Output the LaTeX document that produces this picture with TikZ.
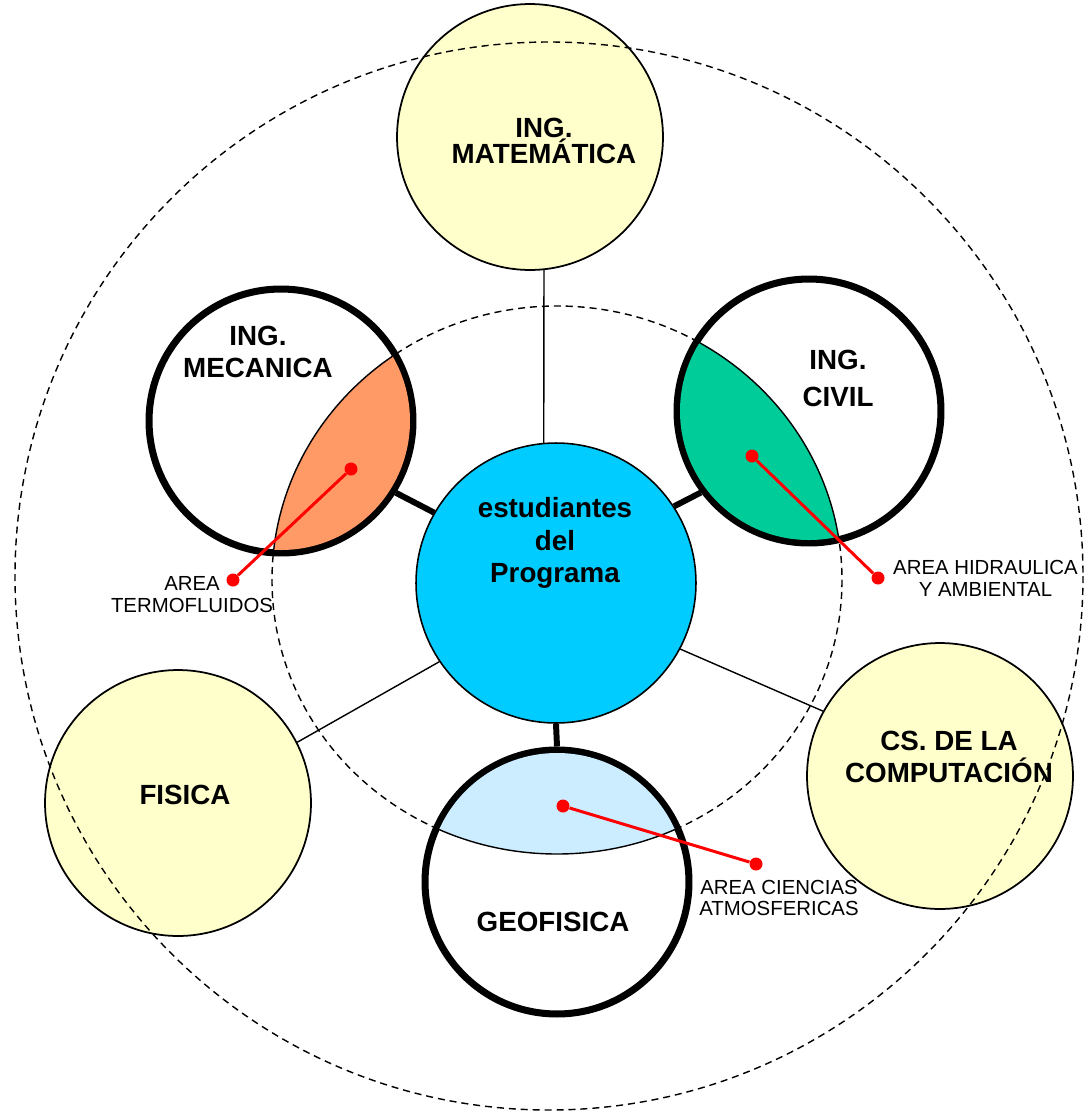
\documentclass[tikz,border=0pt]{standalone}
\usepackage{fontspec}
\setmainfont{Liberation Sans}
\usepackage{xcolor}
\usepackage{tikz}

\definecolor{paleyellow}{HTML}{FFFFCC}
\definecolor{hubcyan}{HTML}{00CCFF}
\definecolor{lensorange}{HTML}{FF9966}
\definecolor{lensgreen}{HTML}{00CC99}
\definecolor{lensblue}{HTML}{CCECFF}

\begin{document}
\begin{tikzpicture}[
    x=0.02cm, y=-0.02cm,
    plain/.style={circle, draw=black, line width=1pt, fill=paleyellow, minimum size=5.32cm, inner sep=0pt},
    ring/.style={circle, draw=black, line width=4pt, fill=white, minimum size=5.28cm, inner sep=0pt},
    hub/.style={circle, draw=black, line width=0.9pt, fill=hubcyan, minimum size=5.6cm, inner sep=0pt},
    guide/.style={draw=black, line width=0.8pt, dash pattern=on 4pt off 2.8pt},
    link/.style={draw=black, line width=0.8pt},
    thicklink/.style={draw=black, line width=3.4pt},
    pin/.style={circle, fill=red, inner sep=0pt, minimum size=0.26cm},
    pinline/.style={draw=red, line width=1.7pt},
    title/.style={font=\bfseries\fontsize{15.8}{18.7}\selectfont, align=center, inner sep=0pt},
    area/.style={font=\fontsize{11.6}{12.2}\selectfont, align=center, inner sep=0pt}
]
    \path[fill=white, use as bounding box] (0,0) rectangle (1088,1113);

    % carreras externas
    \node [plain] (mat) at (530,137) {};
    \node [plain] (fis) at (178,803) {};
    \node [plain] (cs) at (940,776) {};

    % circulos punteados
    \draw [guide] (549,576) circle [radius=534];
    \draw [guide] (557,580) ellipse [x radius=285, y radius=274];

    % carreras con areas
    \node [ring] (mec) at (281,421) {};
    \node [ring] (civ) at (809,411) {};
    \node [ring] (geo) at (557,882) {};

    \begin{scope}
        \clip (557,580) ellipse [x radius=285, y radius=274];
        \fill [lensorange] (mec.center) circle [radius=129];
        \fill [lensgreen] (civ.center) circle [radius=129];
        \fill [lensblue] (geo.center) circle [radius=129];
    \end{scope}
    \begin{scope}
        \clip (mec.center) circle [radius=129] (civ.center) circle [radius=129] (geo.center) circle [radius=129];
        \draw [link] (557,580) ellipse [x radius=285, y radius=274];
    \end{scope}

    \node [hub] (prog) at (556,583) {};

    % conexiones
    \draw [link] (mat.-84) -- (prog.95);
    \draw [link] (fis.27) -- (prog.214);
    \draw [link] (prog.-28) -- (cs.151);
    \draw [thicklink] (mec.-32) -- (prog.150);
    \draw [thicklink] (prog.33) -- (civ.217);
    \draw [thicklink] (prog.south) -- (geo.north);

    % areas
    \node [pin] (mec-pin) at (351,469) {};
    \node [pin] (mec-end) at (233,580) {};
    \node [pin] (civ-pin) at (752,456) {};
    \node [pin] (civ-end) at (878,578) {};
    \node [pin] (geo-pin) at (563,806) {};
    \node [pin] (geo-end) at (756,864) {};
    \draw [pinline] (mec-pin) -- (mec-end);
    \draw [pinline] (civ-pin) -- (civ-end);
    \draw [pinline] (geo-pin) -- (geo-end);

    \node [area] (mec-area) at (192,594.5) {AREA\\TERMOFLUIDOS};
    \node [area] (civ-area) at (985.5,578.5) {AREA HIDRAULICA\\Y AMBIENTAL};
    \node [area] (geo-area) at (779,898) {AREA CIENCIAS\\ATMOSFERICAS};

    % textos
    \node [title, font=\bfseries\fontsize{15.8}{14.7}\selectfont] (mat-t) at (544,141) {ING.\\MATEMÁTICA};
    \node [title] (mec-t) at (258,352) {ING.\\MECANICA};
    \node [title, font=\bfseries\fontsize{15.8}{21}\selectfont] (civ-t) at (838,378) {ING.\\CIVIL};
    \node [title] (geo-t) at (553,922) {GEOFISICA};
    \node [title] (fis-t) at (185,795) {FISICA};
    \node [title] (cs-t) at (949,757) {CS. DE LA\\COMPUTACIÓN};
    \node [title] (prog-t) at (555,543) {estudiantes\\del\\Programa};
\end{tikzpicture}
\end{document}
